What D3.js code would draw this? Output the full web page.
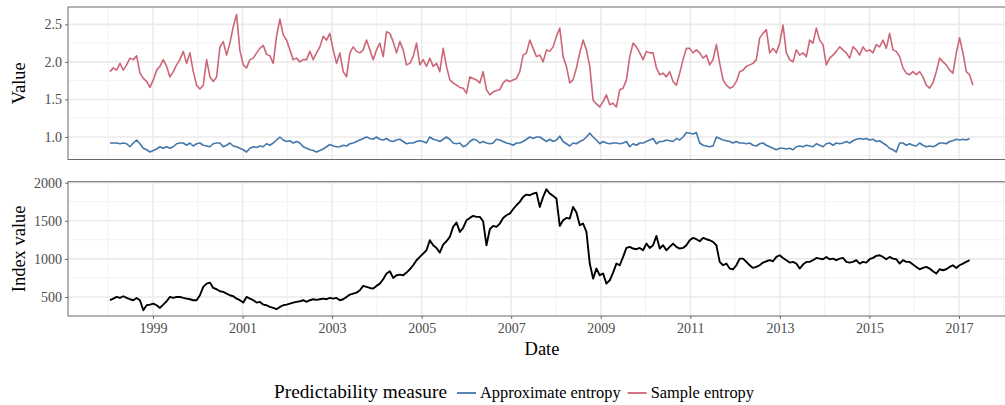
<!DOCTYPE html>
<html><head><meta charset="utf-8">
<script src="https://cdn.jsdelivr.net/npm/d3@7"></script>
<style>
body{margin:0;background:#fff}
svg{display:block}
text{font-family:"Liberation Serif","Times New Roman",serif}
</style>
</head><body>
<svg id="chart" width="1005" height="405"></svg>
<script>
// ---- data (sampled roughly every 27 days from mid-January 1998) ----
const startDate = "1998-01-15";
const stepDays = 27.18;

const sampleEntropy = [
1.87,1.92,1.89,1.98,1.89,1.96,2.05,2.03,2.08,1.85,
1.78,1.74,1.66,1.76,1.89,1.94,2.03,1.94,1.80,1.87,
1.96,2.03,2.14,1.98,2.12,1.87,1.69,1.64,1.69,2.03,
1.80,1.74,1.80,2.20,2.27,2.09,2.25,2.47,2.63,2.15,
1.96,1.92,2.03,2.05,2.12,2.18,2.22,2.10,2.08,1.98,
2.34,2.57,2.36,2.29,2.16,2.03,2.05,2.00,2.03,2.03,
2.14,2.03,2.12,2.20,2.34,2.29,2.38,2.16,1.98,
2.12,1.87,1.80,2.12,2.20,2.14,2.12,2.16,2.29,2.16,
2.03,2.16,2.25,2.07,2.40,2.38,2.27,2.12,2.27,2.16,
1.96,1.98,2.07,2.25,1.96,2.03,1.94,2.05,1.94,1.98,
1.87,2.18,1.94,1.76,1.72,1.69,1.66,1.65,1.58,1.80,
1.78,1.76,1.72,1.87,1.63,1.56,1.60,1.62,1.63,1.72,
1.76,1.74,1.76,1.78,1.87,2.09,2.12,2.29,2.18,2.07,
2.09,2.00,2.16,2.14,2.20,
2.34,2.45,2.07,1.94,1.72,1.76,1.92,2.12,2.29,2.16,
1.94,1.49,1.44,1.40,1.47,1.56,1.43,1.45,1.40,1.63,
1.65,1.76,2.07,2.25,2.20,2.12,2.03,2.14,2.12,2.12,
1.92,1.83,
1.85,1.80,1.87,1.74,1.69,1.85,2.03,2.18,2.18,2.12,
2.16,2.12,2.05,2.09,1.96,2.03,2.23,1.98,1.76,1.69,
1.65,1.67,1.74,1.87,1.89,1.94,1.96,1.98,2.03,2.32,
2.38,2.43,2.12,2.18,2.12,2.25,
2.49,
2.12,2.03,2.00,2.16,2.09,2.12,2.07,2.29,2.25,2.45,
2.29,2.23,1.96,2.05,2.09,2.14,2.20,2.16,2.12,2.05,
2.20,2.16,2.09,2.20,2.14,2.16,2.12,2.23,2.20,2.29,
2.18,2.38,2.16,2.14,2.07,1.92,1.85,1.83,1.87,1.83,
1.87,1.80,1.69,1.65,1.72,1.87,2.05,2.00,1.96,1.89,
1.85,2.12,2.32,2.12,1.87,1.83,1.69
];

const approximateEntropy = [
0.92,0.92,0.92,0.91,0.92,0.91,0.87,0.92,0.96,0.91,
0.85,0.83,0.80,0.82,0.84,0.87,0.85,0.87,0.85,0.87,
0.91,0.92,0.92,0.89,0.92,0.88,0.91,0.92,0.89,0.88,
0.87,0.91,0.92,0.92,0.87,0.89,0.92,0.88,0.87,0.85,
0.83,0.80,0.85,0.87,0.86,0.88,0.87,0.91,0.89,0.92,
0.96,1.00,0.96,0.94,0.95,0.92,0.94,0.92,0.87,0.85,
0.83,0.82,0.80,0.82,0.84,0.87,0.90,0.88,0.87,
0.87,0.89,0.88,0.91,0.92,0.94,0.96,0.98,1.00,0.98,
0.97,1.00,0.97,0.96,0.98,0.95,0.94,0.96,0.97,0.94,
0.91,0.92,0.92,0.94,0.95,0.94,0.92,1.00,0.97,0.96,
0.94,0.97,1.00,0.97,0.92,0.91,0.92,0.87,0.89,0.94,
0.97,0.96,0.92,0.94,0.92,0.91,0.92,0.97,0.96,0.94,
0.92,0.91,0.89,0.92,0.92,0.94,0.97,1.00,0.98,1.00,
1.00,0.97,0.94,0.97,0.94,0.96,1.01,0.94,0.91,0.88,
0.92,0.91,0.94,0.96,1.00,1.05,1.00,0.96,0.91,0.94,
0.92,0.91,0.92,0.92,0.91,0.92,0.94,0.87,0.91,0.89,
0.92,0.92,0.94,0.96,0.98,0.91,0.94,
0.94,0.96,0.95,0.94,0.98,0.96,1.00,1.06,1.05,1.04,
1.06,0.92,0.89,0.88,0.87,0.88,1.00,0.98,0.96,0.95,
0.94,0.92,0.94,0.92,0.92,0.91,0.92,0.89,0.88,0.91,
0.92,0.89,0.87,0.85,0.83,0.85,0.85,0.84,0.85,0.83,
0.87,0.88,0.87,0.89,0.88,0.87,0.91,0.89,0.87,0.91,
0.92,0.89,0.92,0.91,0.92,0.94,0.92,0.95,0.97,0.98,
0.97,0.98,0.96,0.97,0.94,0.95,0.92,0.89,0.85,0.83,
0.80,0.92,0.92,0.89,0.91,0.89,0.88,0.92,0.89,0.87,
0.88,0.87,0.89,0.92,0.92,0.91,0.94,0.95,0.97,0.96,
0.97,0.96,0.98
];

const indexValue = [
458,479,501,488,510,488,471,458,488,458,
326,392,401,414,392,357,401,444,501,488,
501,501,488,479,471,458,458,523,633,676,
689,619,602,576,567,545,523,510,479,458,
427,501,479,458,427,436,401,392,370,357,
340,370,392,401,414,427,436,444,458,436,
458,471,462,471,479,471,488,479,488,
458,471,501,532,545,558,589,646,633,619,
611,646,676,733,808,838,751,786,794,786,
821,864,917,983,1026,1070,1114,1245,1179,1144,
1083,1188,1232,1289,1420,1477,1354,1407,1507,1538,
1564,1551,1551,1494,1179,1389,1433,1420,1464,1538,
1573,1595,1652,1704,1748,1814,1844,1835,1857,1870,
1682,1814,1914,1857,1827,1792,1433,1507,1538,1529,
1682,1608,1442,1464,1354,939,742,873,786,808,
676,720,821,939,917,1026,1144,1157,1136,1127,
1144,1114,1201,1144,1179,1302,1136,
1179,1114,1157,1201,1157,1136,1144,1179,1245,1276,
1258,1232,1276,1258,1245,1223,1179,961,917,939,
873,864,917,1004,1004,961,917,882,895,917,
952,969,983,969,1026,1048,1013,983,952,961,
939,873,926,961,961,983,1013,1004,996,1026,
996,1004,983,1004,1013,961,952,961,983,939,
961,952,996,1013,1039,1048,1026,996,1026,1004,
996,939,983,961,961,926,895,864,882,895,
873,838,808,864,851,864,895,917,882,917,
939,961,983
];

const xMajorYears = [1999,2001,2003,2005,2007,2009,2011,2013,2015,2017];
const xMinorYears = [1998,2000,2002,2004,2006,2008,2010,2012,2014,2016,2018];
const topMajor = [1.0,1.5,2.0,2.5];
const topMinor = [0.75,1.25,1.75,2.25];
const bottomMajor = [500,1000,1500,2000];
const bottomMinor = [750,1250,1750];
const seriesNames = ["Approximate entropy","Sample entropy"];
const seriesColors = ["#4477AA","#CC6677"];
const legendTitle = "Predictability measure";

// ---- layout ----
const svg = d3.select("#chart");
const L = 68, R = 1016;
const topP = {t:7, b:159.5};
const botP = {t:181.7, b:316};
const t0 = d3.isoParse(startDate + "T00:00:00Z");
const dateAt = i => new Date(t0.getTime() + i * stepDays * 864e5);
const yr = y => new Date(Date.UTC(y,0,1));

const x = d3.scaleUtc().domain([yr(1999), yr(2017)]).range([153, 959]);
const yTop = d3.scaleLinear().domain([0.70, 2.731]).range([topP.b, topP.t]);
const yBot = d3.scaleLinear().domain([251, 2013]).range([botP.b, botP.t]);

svg.append("defs").append("clipPath").attr("id","clipT")
  .append("rect").attr("x",L).attr("y",topP.t).attr("width",R-L).attr("height",topP.b-topP.t);
svg.select("defs").append("clipPath").attr("id","clipB")
  .append("rect").attr("x",L).attr("y",botP.t).attr("width",R-L).attr("height",botP.b-botP.t);

function grid(P, y, major, minor) {
  const g = svg.append("g");
  g.selectAll(".hmin").data(minor).join("line")
    .attr("x1",L).attr("x2",R).attr("y1",d=>y(d)).attr("y2",d=>y(d))
    .attr("stroke","#F2F2F2").attr("stroke-width",1);
  g.selectAll(".vmin").data(xMinorYears).join("line")
    .attr("x1",d=>x(yr(d))).attr("x2",d=>x(yr(d))).attr("y1",P.t).attr("y2",P.b)
    .attr("stroke","#F2F2F2").attr("stroke-width",1);
  g.selectAll(".hmaj").data(major).join("line")
    .attr("x1",L).attr("x2",R).attr("y1",d=>y(d)).attr("y2",d=>y(d))
    .attr("stroke","#EBEBEB").attr("stroke-width",1.6);
  g.selectAll(".vmaj").data(xMajorYears).join("line")
    .attr("x1",d=>x(yr(d))).attr("x2",d=>x(yr(d))).attr("y1",P.t).attr("y2",P.b)
    .attr("stroke","#EBEBEB").attr("stroke-width",1.6);
}
grid(topP, yTop, topMajor, topMinor);
grid(botP, yBot, bottomMajor, bottomMinor);

// ---- lines ----
const mk = arr => arr.map((v,i)=>({date:dateAt(i), v}));
const lineT = d3.line().x(d=>x(d.date)).y(d=>yTop(d.v));
const lineB = d3.line().x(d=>x(d.date)).y(d=>yBot(d.v));

const gT = svg.append("g").attr("clip-path","url(#clipT)");
gT.append("path").datum(mk(sampleEntropy)).attr("d",lineT)
  .attr("fill","none").attr("stroke",seriesColors[1]).attr("stroke-width",1.6).attr("stroke-linejoin","round");
gT.append("path").datum(mk(approximateEntropy)).attr("d",lineT)
  .attr("fill","none").attr("stroke",seriesColors[0]).attr("stroke-width",1.6).attr("stroke-linejoin","round");

svg.append("g").attr("clip-path","url(#clipB)")
  .append("path").datum(mk(indexValue)).attr("d",lineB)
  .attr("fill","none").attr("stroke","#000").attr("stroke-width",1.9).attr("stroke-linejoin","round");

// ---- borders ----
[topP, botP].forEach(P=>{
  svg.append("rect").attr("x",L).attr("y",P.t).attr("width",R-L).attr("height",P.b-P.t)
    .attr("fill","none").attr("stroke","#6b6b6b").attr("stroke-width",1);
});

// ---- axes ----
function styleAxis(g){
  g.select(".domain").remove();
  g.selectAll(".tick line").attr("stroke","#6b6b6b");
  g.selectAll(".tick text").attr("fill","#4D4D4D").style("font-size","14px")
    .style("font-family",'"Liberation Serif",serif');
}
svg.append("g").attr("transform",`translate(${L},0)`)
  .call(d3.axisLeft(yTop).tickValues(topMajor).tickFormat(d3.format(".1f")).tickSize(3).tickPadding(3))
  .call(styleAxis);
svg.append("g").attr("transform",`translate(${L},0)`)
  .call(d3.axisLeft(yBot).tickValues(bottomMajor).tickFormat(d3.format("d")).tickSize(3).tickPadding(3))
  .call(styleAxis);
svg.append("g").attr("transform",`translate(0,${botP.b})`)
  .call(d3.axisBottom(x).tickValues(xMajorYears.map(yr)).tickFormat(d3.utcFormat("%Y")).tickSize(3).tickPadding(4))
  .call(styleAxis);

// ---- titles ----
svg.append("text").attr("transform",`translate(25,${(topP.t+topP.b)/2}) rotate(-90)`)
  .attr("text-anchor","middle").style("font-size","18.5px").attr("fill","#000").text("Value");
svg.append("text").attr("transform",`translate(25,${(botP.t+botP.b)/2}) rotate(-90)`)
  .attr("text-anchor","middle").style("font-size","18.5px").attr("fill","#000").text("Index value");
svg.append("text").attr("x",(L+R)/2).attr("y",355)
  .attr("text-anchor","middle").style("font-size","18.5px").attr("fill","#000").text("Date");

// ---- legend ----
const lg = svg.append("g");
let cx = 0;
const title = lg.append("text").attr("x",cx).attr("y",0).style("font-size","19.3px").text(legendTitle);
cx += title.node().getComputedTextLength() + 10;
seriesNames.forEach((n,i)=>{
  lg.append("line").attr("x1",cx).attr("x2",cx+19).attr("y1",-5).attr("y2",-5)
    .attr("stroke",seriesColors[i]).attr("stroke-width",1.8);
  cx += 23;
  const t = lg.append("text").attr("x",cx).attr("y",0).style("font-size","16.4px").text(n);
  cx += t.node().getComputedTextLength() + 7;
});
cx -= 7;
lg.attr("transform",`translate(${514 - cx/2},398)`);
</script>
</body></html>
